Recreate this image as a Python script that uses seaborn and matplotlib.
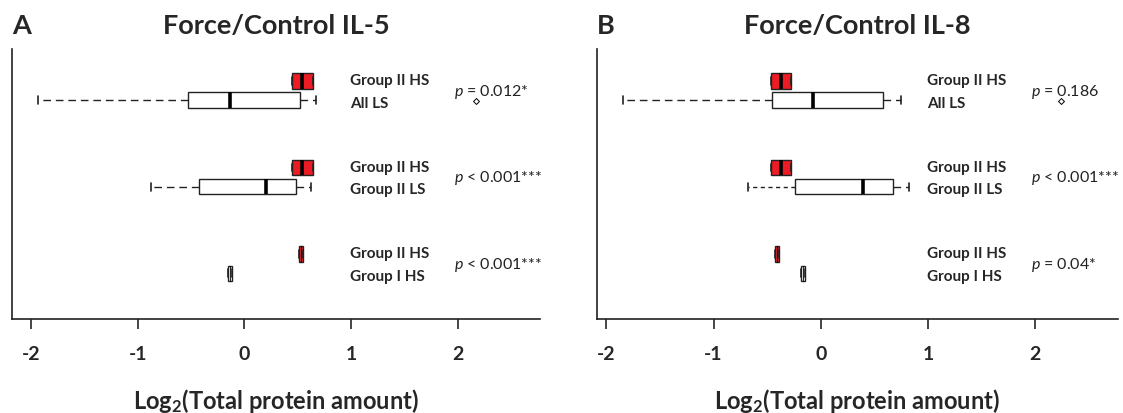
import numpy as np
import pandas as pd
import matplotlib
matplotlib.use("Agg")
import matplotlib.pyplot as plt
import seaborn as sns

comparisons = ["All LS", "Group II LS", "Group I HS"]
hs_label = "Group II HS"

# panel A, Force/Control IL-5 (five-number summaries)
il5_cmp_lo = [-1.93, -0.88, -0.153]
il5_cmp_q1 = [-0.533, -0.423, -0.153]
il5_cmp_med = [-0.137, 0.198, -0.135]
il5_cmp_q3 = [0.517, 0.487, -0.116]
il5_cmp_hi = [0.669, 0.621, -0.116]
il5_hs_q1 = [0.45, 0.45, 0.511]
il5_hs_med = [0.544, 0.544, 0.531]
il5_hs_q3 = [0.642, 0.642, 0.551]
il5_outliers = [2.17]
il5_pvals = ["= 0.012*", "< 0.001***", "< 0.001***"]

# panel B, Force/Control IL-8
il8_cmp_lo = [-1.842, -0.678, -0.184]
il8_cmp_q1 = [-0.456, -0.24, -0.184]
il8_cmp_med = [-0.076, 0.396, -0.163]
il8_cmp_q3 = [0.581, 0.669, -0.143]
il8_cmp_hi = [0.743, 0.82, -0.143]
il8_hs_q1 = [-0.469, -0.469, -0.43]
il8_hs_med = [-0.371, -0.371, -0.41]
il8_hs_q3 = [-0.277, -0.277, -0.39]
il8_outliers = [2.24]
il8_pvals = ["= 0.186", "< 0.001***", "= 0.04*"]

xticks = [-2, -1, 0, 1, 2]

sns.set_style("ticks")
plt.rcParams["font.family"] = ["Lato", "DejaVu Sans"]
plt.rcParams["mathtext.fontset"] = "custom"
plt.rcParams["mathtext.it"] = "Lato:italic"
plt.rcParams["mathtext.rm"] = "Lato:bold"
plt.rcParams["mathtext.bf"] = "Lato:bold"

RED = "#ed1c24"
OFF = 0.111


def long_frame(cmp_lo, cmp_q1, cmp_med, cmp_q3, cmp_hi, hs_q1, hs_med, hs_q3):
    recs = []
    for i in range(len(comparisons)):
        for v in (cmp_lo[i], cmp_q1[i], cmp_med[i], cmp_q3[i], cmp_hi[i]):
            recs.append({"pos": i + OFF, "kind": "cmp", "value": v})
        for v in (hs_q1[i], hs_q1[i], hs_med[i], hs_q3[i], hs_q3[i]):
            recs.append({"pos": i - OFF, "kind": "hs", "value": v})
    return pd.DataFrame(recs)


def draw(ax, df, outliers, pvals, xlim, title, letter, fine_whisker=None):
    sns.boxplot(data=df, x="value", y="pos", hue="kind", orient="y",
                native_scale=True, dodge=False, width=0.806, whis=(0, 100),
                palette={"cmp": "white", "hs": RED}, saturation=1,
                linecolor="#222222", linewidth=1.0, legend=False,
                medianprops={"color": "black", "linewidth": 2.6},
                whiskerprops={"linestyle": (0, (5.5, 3.5)), "linewidth": 1.0},
                capprops={"linewidth": 1.2}, ax=ax)
    for ln in ax.lines:
        x = np.asarray(ln.get_xdata(), float)
        y = np.asarray(ln.get_ydata(), float)
        if len(x) != 2:
            continue
        # median of a very narrow box: keep it thin so the fill shows
        if x[0] == x[1] and abs(y[1] - y[0]) > 0.15 and y.mean() > 1.5:
            ln.set_linewidth(0.6)
        if fine_whisker is not None and x[0] != x[1] and np.isclose(x.min(), fine_whisker):
            ln.set_linestyle((0, (3, 2.5)))
    sns.scatterplot(x=outliers, y=[OFF + 0.01] * len(outliers), marker="D", s=9,
                    facecolor="white", edgecolor="black", linewidth=0.7,
                    zorder=5, ax=ax)
    for i, p in enumerate(pvals):
        ax.text(0.99, i - OFF - 0.01, hs_label, fontsize=11, fontweight="bold",
                va="center", ha="left")
        ax.text(0.99, i + OFF + 0.03, comparisons[i], fontsize=11,
                fontweight="bold", va="center", ha="left")
        ax.text(1.96, i, "$p$ " + p, fontsize=11.5, va="center", ha="left",
                color="#222222")
    ax.set_xlim(*xlim)
    ax.set_ylim(2.636, -0.48)
    ax.set_xticks(xticks)
    ax.set_xticklabels([str(t) for t in xticks], fontsize=14, fontweight="bold")
    ax.set_yticks([])
    ax.set_ylabel("")
    ax.set_xlabel("Log$_2$(Total protein amount)", fontsize=17,
                  fontweight="bold", labelpad=17)
    ax.tick_params(axis="x", direction="out", length=7, width=1.2, pad=12)
    sns.despine(ax=ax)
    for s in ("left", "bottom"):
        ax.spines[s].set_linewidth(1.2)
        ax.spines[s].set_color("#222222")
    ax.text(0.5, 1.089, title, transform=ax.transAxes, fontsize=19.5,
            fontweight="bold", ha="center", va="center")
    ax.text(0.0, 1.089, letter, transform=ax.transAxes, fontsize=19.5,
            fontweight="bold", ha="left", va="center")


fig = plt.figure(figsize=(11.23, 4.14), dpi=100)
ax1 = fig.add_axes([0.0105, 0.2278, 0.4704, 0.6514])
ax2 = fig.add_axes([0.5313, 0.2278, 0.4642, 0.6514])

df5 = long_frame(il5_cmp_lo, il5_cmp_q1, il5_cmp_med, il5_cmp_q3, il5_cmp_hi,
                 il5_hs_q1, il5_hs_med, il5_hs_q3)
df8 = long_frame(il8_cmp_lo, il8_cmp_q1, il8_cmp_med, il8_cmp_q3, il8_cmp_hi,
                 il8_hs_q1, il8_hs_med, il8_hs_q3)

draw(ax1, df5, il5_outliers, il5_pvals, (-2.18, 2.77), "Force/Control IL-5", "A")
draw(ax2, df8, il8_outliers, il8_pvals, (-2.09, 2.77), "Force/Control IL-8", "B",
     fine_whisker=il8_cmp_lo[1])

fig.savefig("out.png", dpi=100)
